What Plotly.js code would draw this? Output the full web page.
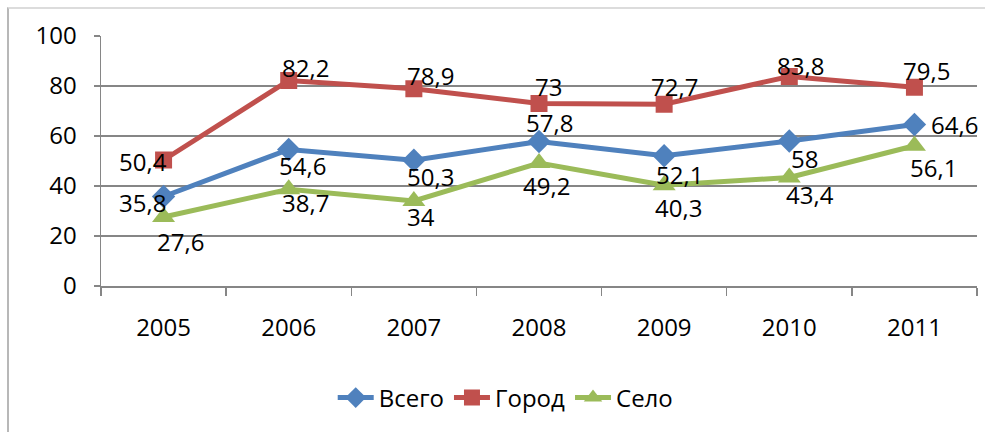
<!DOCTYPE html>
<html>
<head>
<meta charset="utf-8">
<script src="https://cdn.plot.ly/plotly-3.0.1.min.js"></script>
<style>
html,body{margin:0;padding:0;background:#fff;}
#wrap{position:relative;width:985px;height:432px;overflow:hidden;}
#chart{width:985px;height:432px;}
#frame{position:absolute;left:7px;top:7px;width:990px;height:440px;border-left:2px solid #b8b8b8;border-top:2px solid #dcdcdc;pointer-events:none;}
</style>
</head>
<body>
<div id="wrap"><div id="chart"></div><div id="frame"></div></div>
<script>
const years = ["2005","2006","2007","2008","2009","2010","2011"];
const vsego = [35.8, 54.6, 50.3, 57.8, 52.1, 58, 64.6];
const gorod = [50.4, 82.2, 78.9, 73, 72.7, 83.8, 79.5];
const selo  = [27.6, 38.7, 34, 49.2, 40.3, 43.4, 56.1];
const seriesNames = ["Всего", "Город", "Село"];

// label offsets in px relative to the marker (dx right, dy down)
const vsegoOff = [[-21,6],[14,16],[17,16],[10,-19],[15,19],[15,17],[40,0]];
const gorodOff = [[-21,1],[17,-13],[17,-13],[9,-17],[10,-18],[11,-11],[12,-17]];
const seloOff  = [[17,24],[17,13],[7,15],[7,22],[14,22],[21,17],[19,22]];

const fmt = v => String(v).replace('.', ',');
const FONT = "Open Sans";
const FS = 24;

function mk(name, ys, color, symbol, msize){
  return {
    type: "scatter", mode: "lines+markers", name: name,
    x: years, y: ys, cliponaxis: false,
    line: {color: color, width: 5},
    marker: {symbol: symbol, size: msize, color: color}
  };
}
const data = [
  mk(seriesNames[0], vsego, "#4F81BD", "diamond", 18),
  mk(seriesNames[1], gorod, "#C0504D", "square", 17),
  mk(seriesNames[2], selo,  "#9BBB59", "triangle-up", 20)
];

const annotations = [];
[[vsego, vsegoOff],[gorod, gorodOff],[selo, seloOff]].forEach(([ys, offs]) => {
  ys.forEach((v, i) => {
    annotations.push({
      x: i, y: v, xref: "x", yref: "y", text: fmt(v), showarrow: false,
      xanchor: "center", yanchor: "middle", xshift: offs[i][0], yshift: -offs[i][1],
      font: {family: FONT, size: FS, color: "#000"}
    });
  });
});

const layout = {
  width: 985, height: 432,
  margin: {l: 101, r: 8, t: 36, b: 146},
  paper_bgcolor: "#fff", plot_bgcolor: "#fff",
  font: {family: FONT, size: FS, color: "#000"},
  showlegend: true,
  annotations: annotations,
  legend: {orientation: "h", x: 0.462, xanchor: "center", y: -0.448, yanchor: "middle",
           font: {family: FONT, size: FS, color: "#000"}, itemwidth: 36, tracegroupgap: 0},
  xaxis: {
    type: "category", range: [-0.5, 6.5], tickson: "boundaries",
    ticks: "outside", ticklen: 8, tickcolor: "#868686", tickwidth: 1.5,
    showline: true, linecolor: "#868686", linewidth: 1.5,
    showgrid: false, zeroline: false, ticklabelstandoff: 20,
    tickfont: {family: FONT, size: FS, color: "#000"}
  },
  yaxis: {
    range: [0, 100], tickvals: [0,20,40,60,80,100], ticks: "outside", ticklen: 6,
    tickcolor: "#868686", tickwidth: 1.5,
    showline: true, linecolor: "#868686", linewidth: 1.5,
    showgrid: true, gridcolor: "#868686", gridwidth: 1.5, zeroline: false,
    ticklabelstandoff: 12,
    tickfont: {family: FONT, size: FS, color: "#000"}
  }
};

Plotly.newPlot("chart", data, layout, {displayModeBar: false, staticPlot: true});
</script>
</body>
</html>
